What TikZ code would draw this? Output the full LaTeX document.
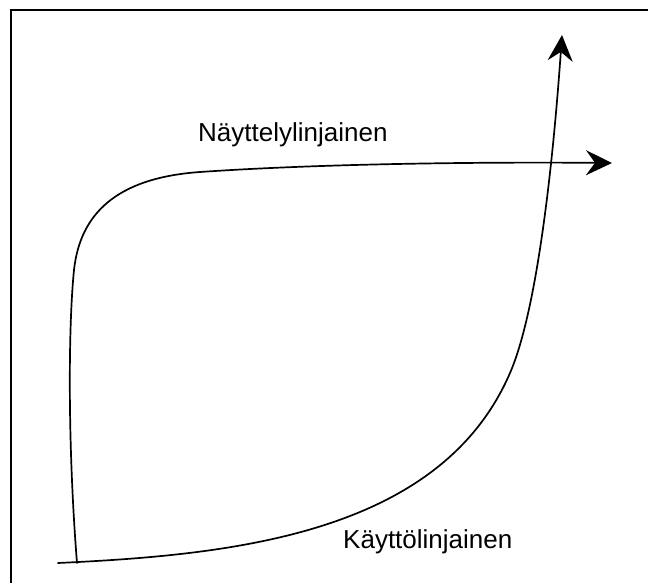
\documentclass[tikz,border=0pt]{standalone}
\usepackage{fontspec}
\setmainfont{Liberation Sans}
\usetikzlibrary{arrows.meta}
\begin{document}
\begin{tikzpicture}[x=1pt,y=-1pt,
  curve/.style={line width=1.7pt,line cap=round},
  arrowed/.style={curve,-{Stealth[length=26pt,width=25pt,inset=9pt]}},
  frame/.style={line width=2pt},
  lbl/.style={anchor=base west,inner sep=0pt,font=\fontsize{26}{30}\selectfont}]
\useasboundingbox (0,0) rectangle (648,583);
% frame (left and top)
\coordinate (fbl) at (10.5,583);
\coordinate (ftl) at (10.5,10.5);
\coordinate (ftr) at (648,10.5);
\draw[frame] (fbl) -- (ftl) -- (ftr);
% curve 1 : Näyttelylinjainen
\coordinate (a0) at (77,563);
\coordinate (a1) at (74,270);
\coordinate (a2) at (200,172);
\coordinate (a3) at (612,163);
\draw[arrowed] (a0) .. controls (68,450) and (68,330) .. (a1)
  .. controls (80,215) and (115,178) .. (a2)
  .. controls (330,163) and (500,162) .. (a3);
% curve 2 : Käyttölinjainen
\coordinate (b0) at (58,563);
\coordinate (b1) at (510,373);
\coordinate (b2) at (562,35);
\draw[arrowed] (b0) .. controls (230,555) and (440,535) .. (b1)
  .. controls (540,304) and (555,135) .. (b2);
% labels
\node[lbl] (n1) at (198,142) {Näyttelylinjainen};
\node[lbl] (n2) at (343,548) {Käyttölinjainen};
\end{tikzpicture}
\end{document}
